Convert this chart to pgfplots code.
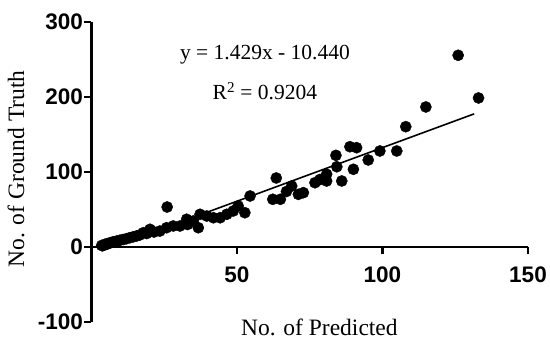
\documentclass[border=0pt]{standalone}
\usepackage{pgfplots}
\pgfplotsset{compat=1.18}
\usepackage{fontspec}
\setmainfont{Liberation Serif}
\setsansfont{Liberation Sans}
\begin{document}
\begin{tikzpicture}
\begin{axis}[
  scale only axis,
  width=436.5pt, height=300pt,
  xmin=0, xmax=150, ymin=-100, ymax=300,
  axis x line=middle, axis y line=left,
  axis line style={-, line width=2.4pt},
  every inner x axis line/.append style={-},
  every outer y axis line/.append style={-},
  xtick={50,100,150}, ytick={-100,0,100,200,300},
  tick align=outside,
  major tick length=7pt,
  tick style={line width=2.2pt, black},
  tick label style={font=\fontsize{22.5}{25}\sffamily\bfseries},
  /pgf/number format/assume math mode=true,
  xticklabel style={yshift=-9pt},
  yticklabel style={xshift=2pt},
  clip=false,
  xlabel={No. of Predicted},
  ylabel={No. of Ground Truth},
  label style={font=\fontsize{23.5}{26}\selectfont},
  xlabel style={at={(axis description cs:0.522,-0.0167)}, anchor=center},
  ylabel style={at={(axis description cs:-0.173,0.51)}, anchor=center},
]
\addplot[only marks, mark=*, mark size=5.6pt, black] coordinates {
(3.5,2) (4.6,3.6) (5.5,4.5) (6.4,5.7) (7.5,7) (8.7,8) (9.8,9) (10.9,10)
(12,11) (13.2,12.4) (14.3,13.5) (15.5,14.7) (16.6,16) (17.8,19) (19,18)
(20.1,23.6) (21.5,20) (23.5,21.3) (25.8,25.7) (26,53.3) (28.1,28) (30.4,28)
(32.7,37) (35,34.7) (33,30) (36.7,25.7) (37.3,43.6) (39.6,41.3) (41.9,39) (44.2,39)
(46.5,43.6) (48.7,48) (50.4,54.7) (52.7,45.7) (54.5,68) (62.3,63.6) (64.9,63.6)
(63.5,92) (67,74) (68.8,81.3) (71.1,70.2) (72.8,72.4) (76.8,85.7) (78.5,90)
(80.8,97) (80.8,88) (84,122.2) (84.3,107) (86,88) (88.8,133.7) (91.1,132.4)
(90,103.6) (95.1,116) (99.1,128) (104.9,128) (108,160.4) (114.9,186.7)
(126,255.6) (133,198.7)
};
\addplot[black, line width=1.6pt] coordinates {(3.5,-5.44) (131.5,177.5)};
\node[font=\fontsize{21.5}{24}\selectfont] at (axis cs:59.6,257) {y = 1.429x - 10.440};
\node[font=\fontsize{21.5}{24}\selectfont] at (axis cs:59.6,208) {R\textsuperscript{2} = 0.9204};
\coordinate (bbl) at (rel axis cs:-0.2096,-0.0833);
\coordinate (btr) at (rel axis cs:1.0504,1.0733);
\end{axis}
\pgfresetboundingbox
\path[use as bounding box] (bbl) rectangle (btr);
\end{tikzpicture}
\end{document}
